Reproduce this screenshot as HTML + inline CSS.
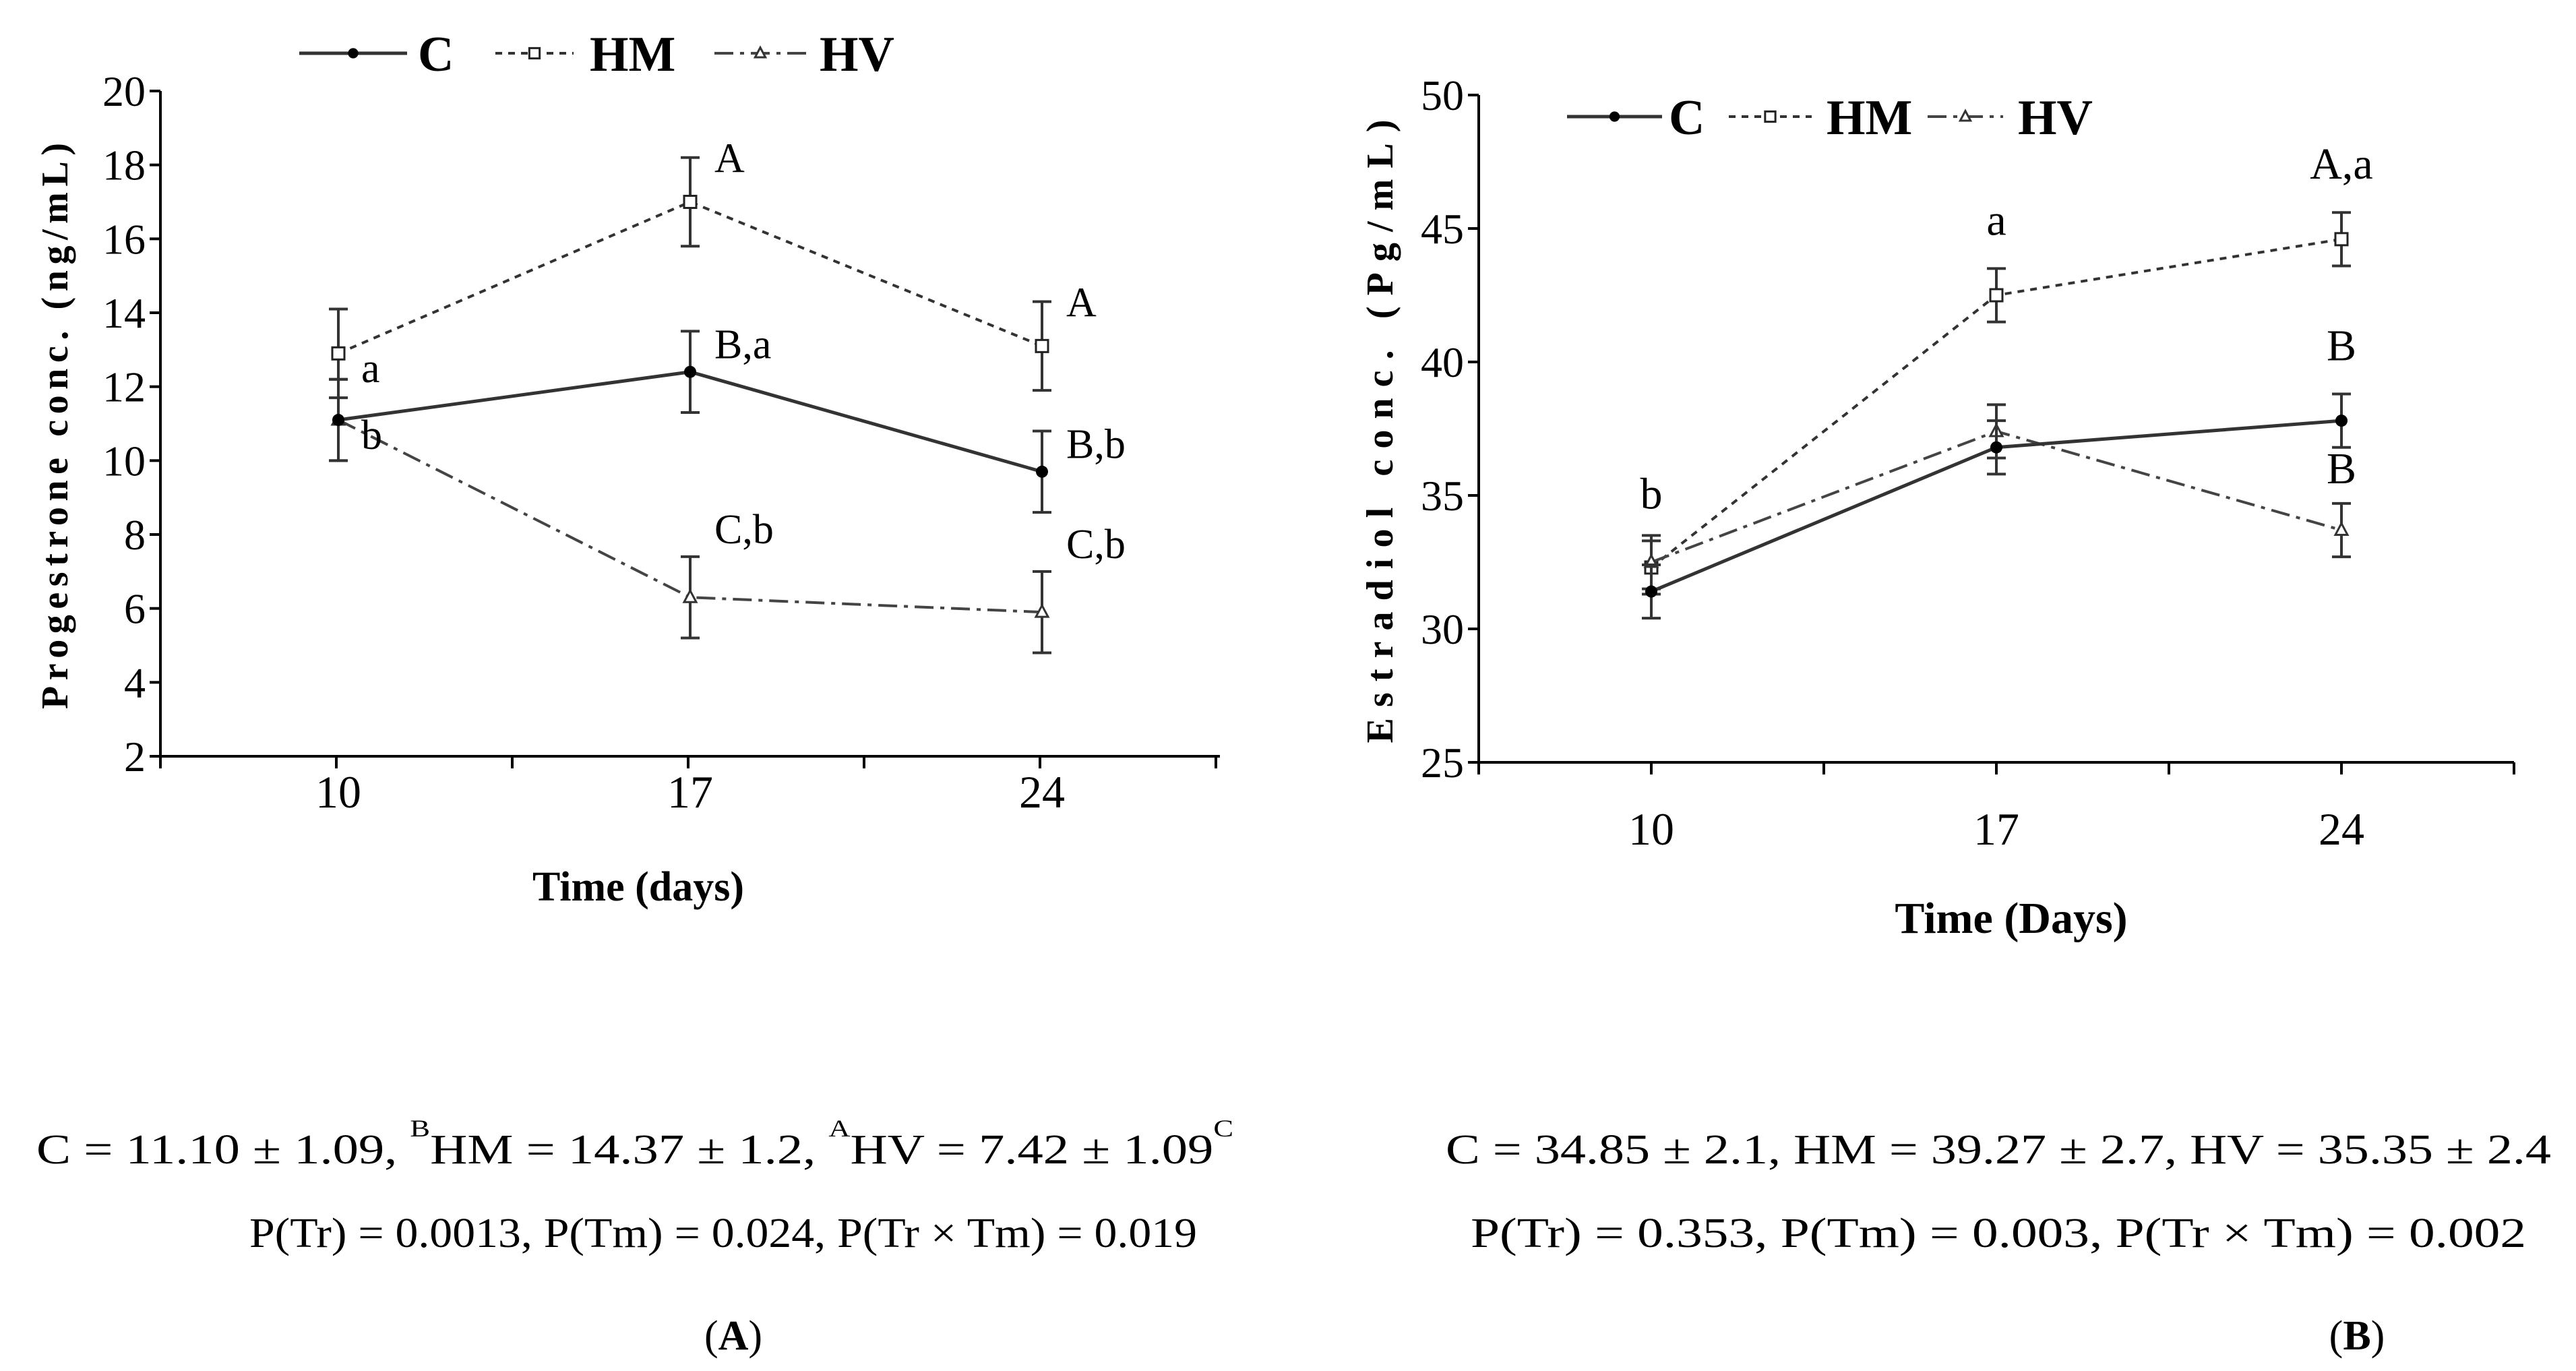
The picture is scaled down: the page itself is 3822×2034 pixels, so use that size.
<!DOCTYPE html>
<html><head><meta charset="utf-8"><style>
html,body{margin:0;padding:0;background:#fff;}
svg{display:block;font-family:"Liberation Serif",serif;}
</style></head><body>
<svg id="svg" width="3822" height="2034" viewBox="0 0 3822 2034" xmlns="http://www.w3.org/2000/svg">
<rect width="3822" height="2034" fill="#fff"/>
<g id="chartA"></g>
<g id="chartB"></g>
<g font-size="62" fill="#000">
<text x="54" y="1726" textLength="1776" lengthAdjust="spacingAndGlyphs">C = 11.10 ± 1.09, <tspan font-size="36" dy="-40">B</tspan><tspan dy="40">HM = 14.37 ± 1.2, </tspan><tspan font-size="36" dy="-40">A</tspan><tspan dy="40">HV = 7.42 ± 1.09</tspan><tspan font-size="36" dy="-40">C</tspan></text>
<text x="370" y="1850" textLength="1406" lengthAdjust="spacingAndGlyphs">P(Tr) = 0.0013, P(Tm) = 0.024, P(Tr × Tm) = 0.019</text>
<text x="1088" y="2002" text-anchor="middle">(<tspan font-weight="bold">A</tspan>)</text>
</g>
<g font-size="62" fill="#000">
<text x="2145" y="1726" textLength="1640" lengthAdjust="spacingAndGlyphs">C = 34.85 ± 2.1, HM = 39.27 ± 2.7, HV = 35.35 ± 2.4</text>
<text x="2182" y="1850" textLength="1566" lengthAdjust="spacingAndGlyphs">P(Tr) = 0.353, P(Tm) = 0.003, P(Tr × Tm) = 0.002</text>
<text x="3497" y="2002" text-anchor="middle">(<tspan font-weight="bold">B</tspan>)</text>
</g>
</svg>
<script>
const categories = ["10", "17", "24"];
const seriesNames = ["C", "HM", "HV"];
const aC = [11.1, 12.4, 9.7];
const aHM = [12.9, 17.0, 13.1];
const aHV = [11.1, 6.3, 5.9];
const aErrC = [1.1, 1.1, 1.1];
const aErrHM = [1.2, 1.2, 1.2];
const aErrHV = [1.1, 1.1, 1.1];
const aTicks = [2, 4, 6, 8, 10, 12, 14, 16, 18, 20];
const bC = [31.4, 36.8, 37.8];
const bHM = [32.3, 42.5, 44.6];
const bHV = [32.5, 37.4, 33.7];
const bErrC = [1.0, 1.0, 1.0];
const bErrHM = [1.0, 1.0, 1.0];
const bErrHV = [1.0, 1.0, 1.0];
const bTicks = [25, 30, 35, 40, 45, 50];
const aNotes = [["A",1,1,"HM"],["A",2,1,"HM"],["B,a",1,0,"C"],["a",0,1,"HM"],["b",0,0,"HV"],["B,b",2,0,"C"],["C,b",1,0,"HV"],["C,b",2,0,"HV"]];
const bNotes = [["A,a",2,"HM"],["a",1,"HM"],["B",2,"C"],["B",2,"HV"],["b",0,"HM"]];

const NS="http://www.w3.org/2000/svg";
function mk(parent, tag, attrs){const e=document.createElementNS(NS,tag);for(const k in attrs)e.setAttribute(k,attrs[k]);parent.appendChild(e);return e;}

function drawChart(g, cfg){
  const {x0,x1,y0,y1,vmin,vmax,ticks,cats,series} = cfg;
  const n = cats.length;
  const xs = i => cfg.xFirst + i*cfg.xStep;
  const ys = v => y1 - (v-vmin)/(vmax-vmin)*(y1-y0);
  cfg.xs = xs; cfg.ys = ys;
  const ax = mk(g,'line',{x1:x0,y1:y0,x2:x0,y2:y1,stroke:'#000','stroke-width':4});
   
  const bx = mk(g,'line',{x1:x0,y1:y1,x2:x1,y2:y1,stroke:'#000','stroke-width':4});
   
  ticks.forEach(t=>{
    const y=ys(t);
    const tl=mk(g,'line',{x1:x0-16,y1:y,x2:x0,y2:y,stroke:'#000','stroke-width':4});
     
    const tx=mk(g,'text',{x:x0-22,y:y+22,'text-anchor':'end','font-size':64});
    tx.textContent=t;
     
  });
  for(let k=0;k<=2*n+1;k++){
    const x = x0 + k*cfg.xStep/2;
    if(x>x1+2) break;
    const tl=mk(g,'line',{x1:x,y1:y1,x2:x,y2:y1+18,stroke:'#000','stroke-width':4});
     
  }
  cats.forEach((c,i)=>{
    const tx=mk(g,'text',{x:xs(i),y:y1+cfg.labOff,'text-anchor':'middle','font-size':68});
    tx.textContent=c;
     
  });
  series.forEach(s=>{
    const pts = s.vals.map((v,i)=>xs(i)+','+ys(v)).join(' ');
    const pl=mk(g,'polyline',{points:pts,fill:'none',stroke:s.color,'stroke-width':s.w,'stroke-dasharray':s.dash});
     
    s.vals.forEach((v,i)=>{
      const x=xs(i), ye=s.err[i];
      const eb=mk(g,'path',{d:`M${x},${ys(v+ye)}V${ys(v-ye)}M${x-14},${ys(v+ye)}h28M${x-14},${ys(v-ye)}h28`,stroke:'#333','stroke-width':4,fill:'none'});
       
      const m=marker(g,s.name,x,ys(v),1);
       
    });
  });
}
function marker(g,name,x,y,sc){
  if(name==='C') return mk(g,'circle',{cx:x,cy:y,r:9*sc,fill:'#000'});
  if(name==='HM') return mk(g,'rect',{x:x-9*sc,y:y-9*sc,width:18*sc,height:18*sc,fill:'#fff',stroke:'#222','stroke-width':3});
  return mk(g,'path',{d:`M${x},${y-10*sc}L${x+9*sc},${y+7*sc}L${x-9*sc},${y+7*sc}Z`,fill:'#fff',stroke:'#333','stroke-width':3});
}
const styles={C:{color:'#333',w:5,dash:'none'},HM:{color:'#333',w:4,dash:'10 9'},HV:{color:'#444',w:4,dash:'28 10 6 10'}};
function legend(g,items){
  items.forEach(it=>{
    const st=styles[it.name];
    const l=mk(g,'line',{x1:it.lx1,y1:it.y,x2:it.lx2,y2:it.y,stroke:st.color,'stroke-width':st.w,'stroke-dasharray':st.dash});
     
    const m=marker(g,it.name,(it.lx1+it.lx2)/2,it.y,0.85);
     
    const t=mk(g,'text',{x:it.tx,y:it.y+26,'font-size':74,'font-weight':'bold'});
    t.textContent=it.name;
     
  });
}
// Chart A
const gA=document.getElementById('chartA');
const cfgA={x0:238,x1:1810,y0:135,y1:1122,vmin:2,vmax:20,ticks:aTicks,cats:categories,xFirst:502,xStep:522,labOff:76,
 series:[{name:'HM',vals:aHM,err:aErrHM,...styles.HM},{name:'HV',vals:aHV,err:aErrHV,...styles.HV},{name:'C',vals:aC,err:aErrC,...styles.C}]};
drawChart(gA,cfgA);
legend(gA,[{name:'C',lx1:444,lx2:604,tx:620,y:79},{name:'HM',lx1:735,lx2:851,tx:875,y:79},{name:'HV',lx1:1060,lx2:1196,tx:1216,y:79}]);
const aSeries={C:aC,HM:aHM,HV:aHV};
aNotes.forEach(([txt,i,above,s])=>{
  const v=aSeries[s][i];
  const x=cfgA.xs(i)+ (i===0?34:36);
  const y= s==='HM'&&i>0 ? cfgA.ys(v+1.2)+22 : (s==='HV'&&i>0 ? cfgA.ys(v+1.1)-20 : cfgA.ys(v+1.1)+40);
  const t=mk(gA,'text',{x:x,y: i===0 ? (above?567:666) : y,'font-size':62});
  t.textContent=txt;
   
});
let ya=mk(gA,'text',{x:0,y:0,'font-size':56,'font-weight':'bold','text-anchor':'middle',textLength:840,lengthAdjust:'spacing',transform:'translate(100,632) rotate(-90)'});
ya.textContent='Progestrone conc. (ng/mL)';
 
let xa=mk(gA,'text',{x:947,y:1336,'font-size':62,'font-weight':'bold','text-anchor':'middle'});
xa.textContent='Time (days)';
 
// Chart B
const gB=document.getElementById('chartB');
const cfgB={x0:2194,x1:3730,y0:141,y1:1131,vmin:25,vmax:50,ticks:bTicks,cats:categories,xFirst:2450,xStep:512,labOff:122,
 series:[{name:'HM',vals:bHM,err:bErrHM,...styles.HM},{name:'HV',vals:bHV,err:bErrHV,...styles.HV},{name:'C',vals:bC,err:bErrC,...styles.C}]};
drawChart(gB,cfgB);
legend(gB,[{name:'C',lx1:2325,lx2:2466,tx:2476,y:173},{name:'HM',lx1:2565,lx2:2688,tx:2710,y:173},{name:'HV',lx1:2860,lx2:2972,tx:2994,y:173}]);
const bSeries={C:bC,HM:bHM,HV:bHV};
bNotes.forEach(([txt,i,s])=>{
  const v=bSeries[s][i];
  let y;
  if(s==='HV') y=cfgB.ys(v+1)-30; else y=cfgB.ys(v+1)-50;
  if(s==='HM'&&i===0) y=cfgB.ys(v+1.2)-40;
  const t=mk(gB,'text',{x:cfgB.xs(i),y:y,'font-size':66,'text-anchor':'middle'});
  t.textContent=txt;
   
});
let yb=mk(gB,'text',{x:0,y:0,'font-size':56,'font-weight':'bold','text-anchor':'middle',textLength:925,lengthAdjust:'spacing',transform:'translate(2066,640) rotate(-90)'});
yb.textContent='Estradiol conc. (Pg/mL)';
 
let xb=mk(gB,'text',{x:2984,y:1384,'font-size':66,'font-weight':'bold','text-anchor':'middle'});
xb.textContent='Time (Days)';
 
</script>
</body></html>
